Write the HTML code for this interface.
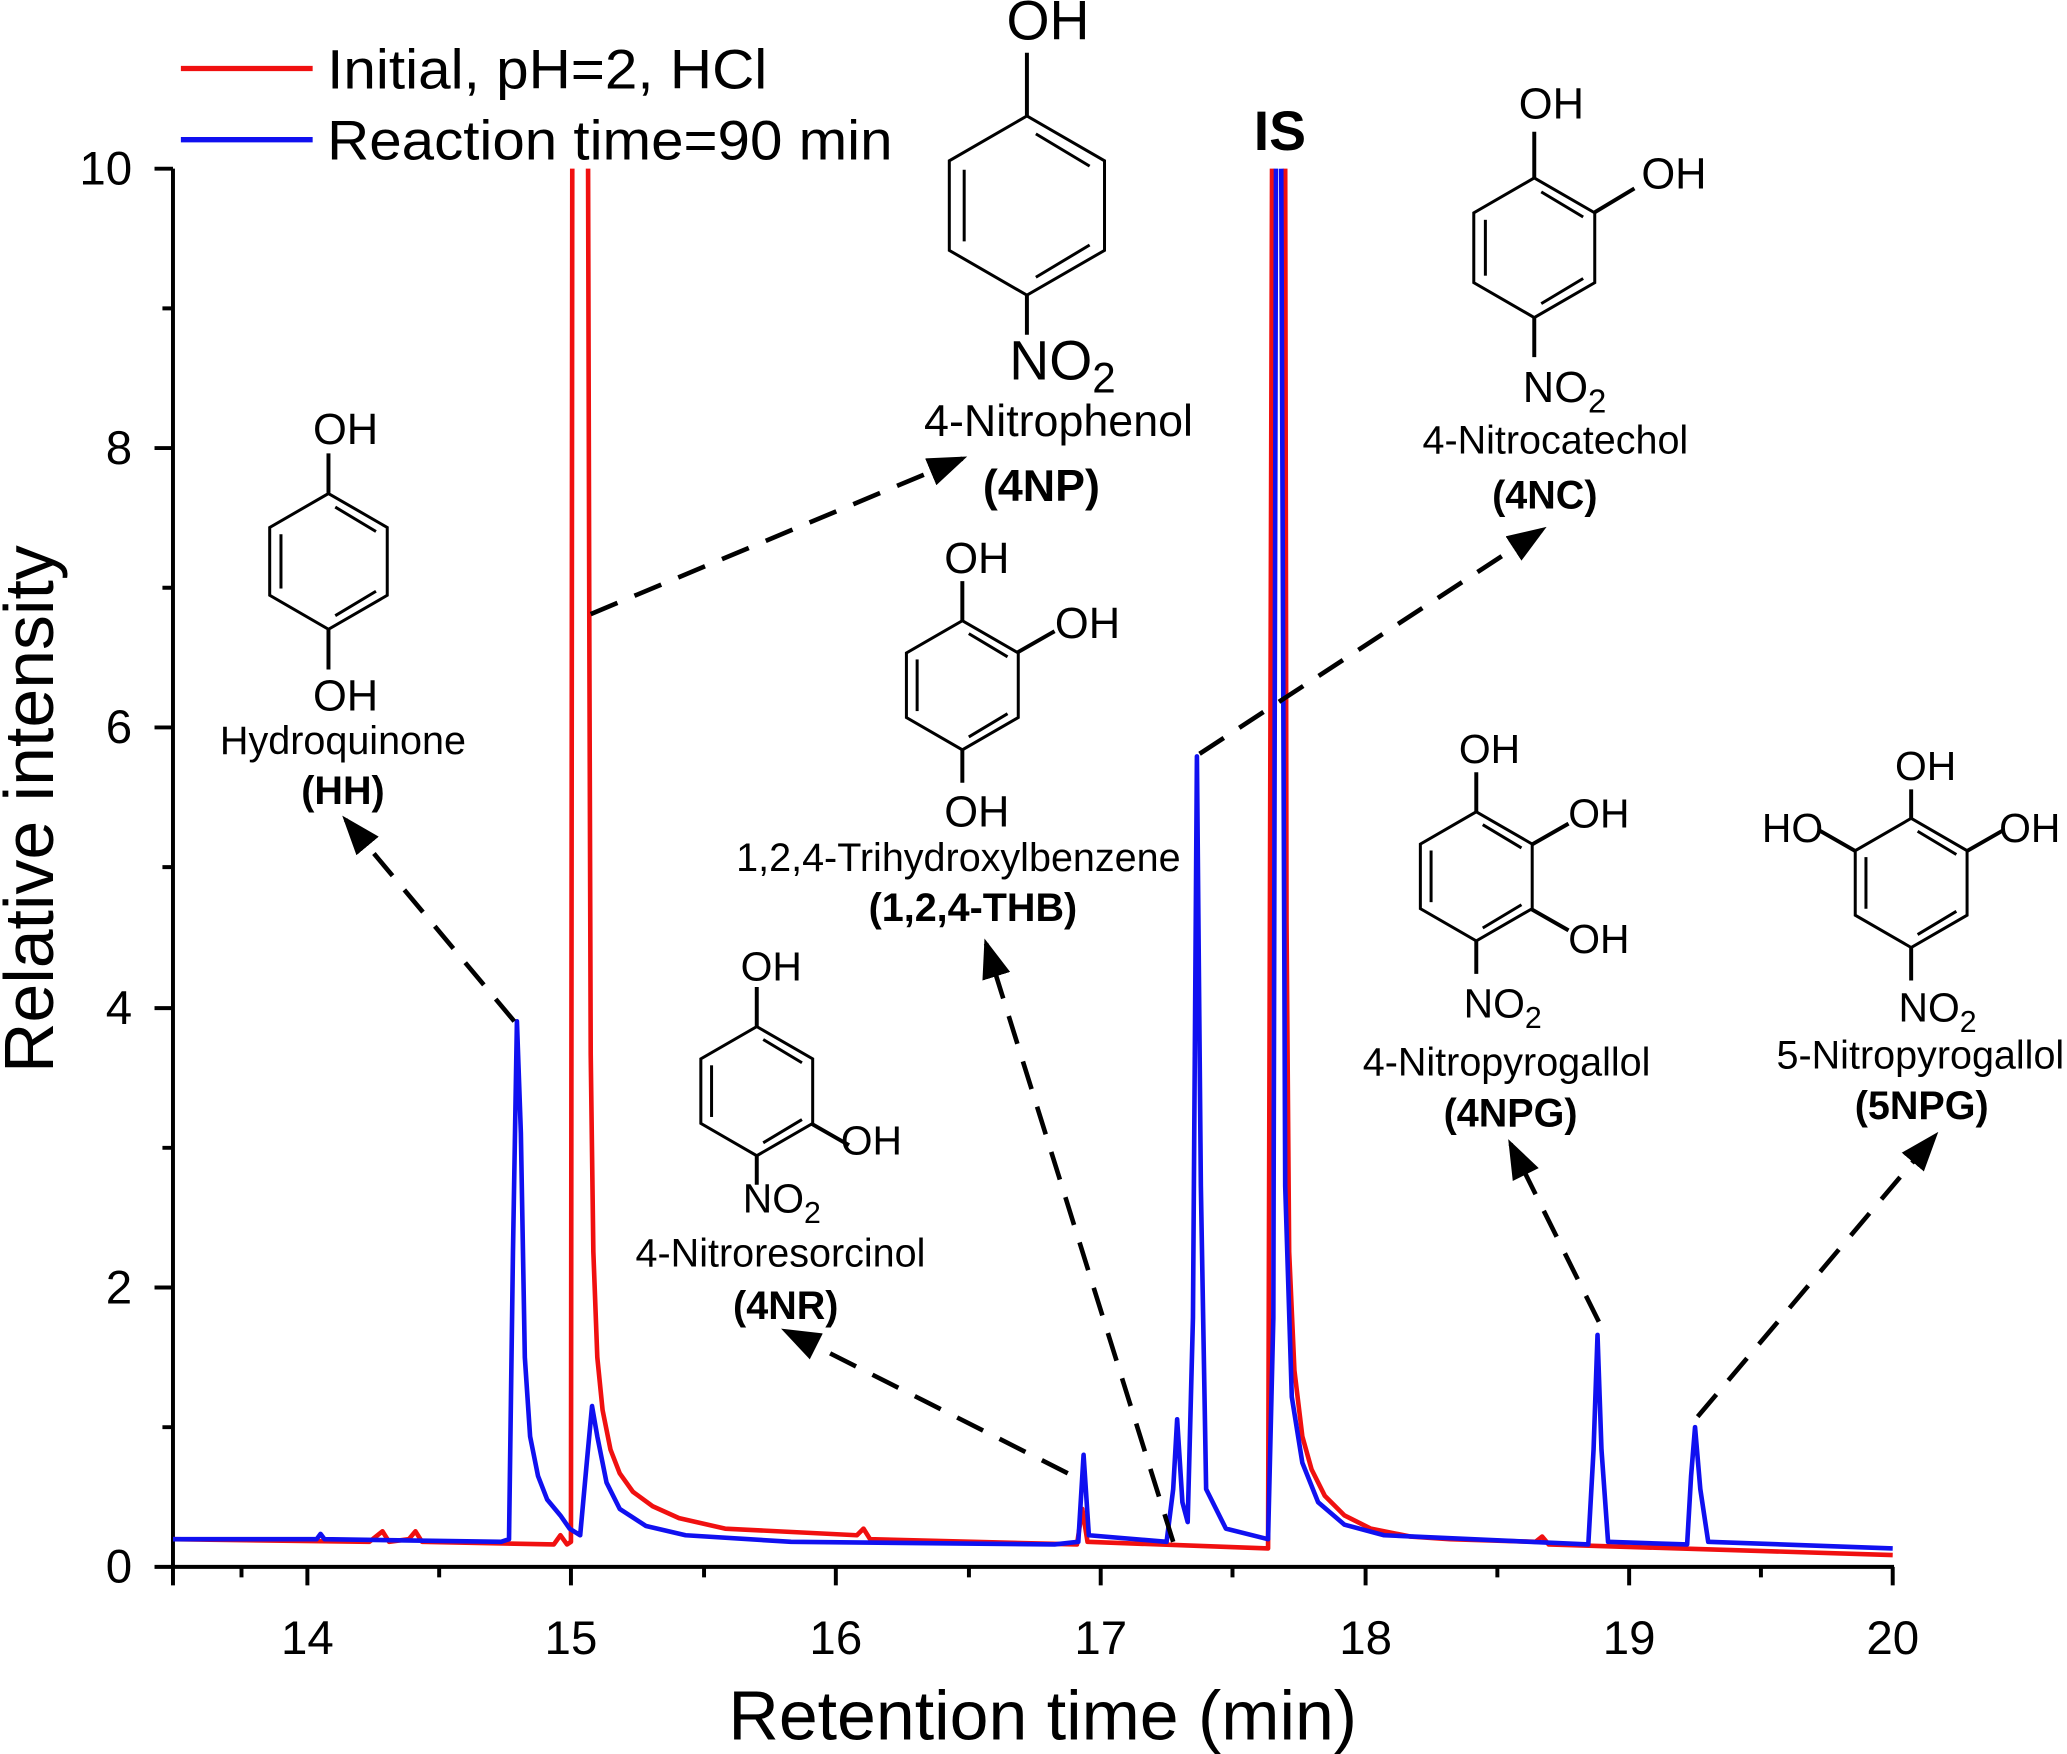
<!DOCTYPE html>
<html><head><meta charset="utf-8"><style>html,body{margin:0;padding:0;background:#fff}svg{display:block}</style></head><body>
<svg width="2067" height="1754" viewBox="0 0 1568 1331" xmlns="http://www.w3.org/2000/svg" font-family="Liberation Sans, Arial, sans-serif">
<defs>
<g id="hex" fill="none" stroke="#000" stroke-width="3">
<polygon vector-effect="non-scaling-stroke" points="0,-50 43.3,-25 43.3,25 0,50 -43.3,25 -43.3,-25"/>
<line vector-effect="non-scaling-stroke" x1="-35" y1="-20" x2="-35" y2="20"/>
<line vector-effect="non-scaling-stroke" x1="5" y1="-40" x2="35" y2="-22"/>
<line vector-effect="non-scaling-stroke" x1="35" y1="22" x2="5" y2="40"/>
</g>
<marker id="ah" markerWidth="30" markerHeight="22" refX="26" refY="11" orient="auto" markerUnits="userSpaceOnUse" viewBox="0 0 30 22"><path d="M0,0 L30,11 L0,22 Z" fill="#000"/></marker>
</defs>
<rect width="1568" height="1331" fill="#fff"/>
<g stroke="#000" stroke-width="3" fill="none">
<line x1="131" y1="128" x2="131" y2="1190"/>
<line x1="130" y1="1189" x2="1437" y2="1189"/>
<path d="M233,1189v14M433,1189v14M634,1189v14M835,1189v14M1036,1189v14M1236,1189v14M1436,1189v14M131,1189v14"/>
<path d="M183,1189v8M333,1189v8M534,1189v8M735,1189v8M935,1189v8M1136,1189v8M1336,1189v8"/>
<path d="M131,1189h-14M131,977h-14M131,765h-14M131,552h-14M131,340h-14M131,128h-14"/>
<path d="M131,1083h-8M131,871h-8M131,658h-8M131,446h-8M131,234h-8"/>
</g>
<g font-size="36" fill="#000" text-anchor="middle">
<text x="233" y="1255">14</text><text x="433" y="1255">15</text><text x="634" y="1255">16</text><text x="835" y="1255">17</text><text x="1036" y="1255">18</text><text x="1236" y="1255">19</text><text x="1436" y="1255">20</text>
</g>
<g font-size="36" fill="#000" text-anchor="end">
<text x="100" y="1201">0</text><text x="100" y="989">2</text><text x="100" y="777">4</text><text x="100" y="564">6</text><text x="100" y="352">8</text><text x="100" y="140">10</text>
</g>
<text x="791" y="1320" font-size="53" text-anchor="middle">Retention time (min)</text>
<text transform="translate(40,614) rotate(-90)" font-size="53" text-anchor="middle">Relative intensity</text>
<g fill="none" stroke="#f01010" stroke-width="3.5" stroke-linejoin="round">
<polyline points="131,1168 280,1170 290,1162 295,1170 310,1168 315,1162 320,1170 420,1172 425,1165 430,1172 433,1170 434,128"/>
<polyline points="446,128 447,500 448,800 450,950 453,1030 457,1070 463,1100 470,1118 480,1132 495,1143 515,1152 550,1160 650,1165 655,1160 660,1168 817,1172 821,1145 825,1170 962,1175 965,128"/>
<polyline points="975,128 976,700 978,950 982,1040 988,1090 995,1115 1005,1135 1020,1150 1040,1160 1070,1166 1100,1168 1165,1170 1170,1166 1175,1172 1436,1180"/>
</g>
<g fill="none" stroke="#1010f0" stroke-width="3.5" stroke-linejoin="round">
<polyline points="131,1168 240,1168 243,1164 246,1168 380,1170 386,1168 389,950 392,775 395,860 398,1030 402,1090 408,1120 415,1138 425,1150 432,1160 440,1165 445,1110 449,1067 453,1090 460,1125 470,1145 490,1158 520,1165 600,1170 800,1172 818,1170 822,1104 826,1165 885,1170 890,1130 893,1077 897,1140 901,1155 905,1000 908,574 911,900 915,1130 930,1160 962,1168 966,1000 968,128"/>
<polyline points="972,128 975,900 980,1060 988,1110 1000,1140 1020,1157 1050,1165 1205,1172 1209,1100 1212,1013 1215,1100 1220,1170 1280,1172 1283,1120 1286,1083 1290,1130 1296,1170 1436,1175"/>
</g>
<line x1="137" y1="52" x2="237" y2="52" stroke="#f01010" stroke-width="4"/>
<line x1="137" y1="106" x2="237" y2="106" stroke="#1010f0" stroke-width="4"/>
<text x="248" y="67" font-size="42" textLength="334" lengthAdjust="spacingAndGlyphs">Initial, pH=2, HCl</text>
<text x="248" y="121" font-size="42" textLength="429" lengthAdjust="spacingAndGlyphs">Reaction time=90 min</text>
<text x="971" y="114" font-size="42" font-weight="bold" text-anchor="middle">IS</text>
<g stroke="#000" stroke-width="3.5" stroke-dasharray="22,14" fill="none" marker-end="url(#ah)">
<line x1="448" y1="466" x2="730" y2="348"/>
<line x1="910" y1="572" x2="1170" y2="402"/>
<line x1="390" y1="775" x2="262" y2="622"/>
<line x1="890" y1="1170" x2="748" y2="716"/>
<line x1="810" y1="1118" x2="596" y2="1010"/>
<line x1="1213" y1="1003" x2="1146" y2="868"/>
<line x1="1288" y1="1075" x2="1468" y2="862"/>
</g>
<g stroke="#000" stroke-width="3" fill="none">
<use href="#hex" transform="translate(249,426) scale(1.03)"/>
<path d="M249,374v-30M249,478v30"/>
<use href="#hex" transform="translate(779,156) scale(1.36)"/>
<path d="M779,88v-48M779,224v30"/>
<use href="#hex" transform="translate(1164,188) scale(1.06)"/>
<path d="M1164,135v-35M1210,161l30,-18M1164,241v30"/>
<use href="#hex" transform="translate(730,520) scale(0.98)"/>
<path d="M730,471v-30M772,495l28,-16M730,569v25"/>
<use href="#hex" transform="translate(574,828) scale(0.98)"/>
<path d="M574,779v-30M616,853l28,16M574,877v22"/>
<use href="#hex" transform="translate(1120,665) scale(0.98)"/>
<path d="M1120,616v-30M1162,641l28,-16M1162,690l28,16M1120,714v25"/>
<use href="#hex" transform="translate(1450,670) scale(0.98)"/>
<path d="M1450,621v-22M1408,646l-28,-16M1492,646l28,-16M1450,719v25"/>
</g>
<g font-size="33" fill="#000" text-anchor="middle">
<text x="262" y="337">OH</text><text x="262" y="539">OH</text>
<text x="260" y="572" font-size="30">Hydroquinone</text>
<text x="260" y="610" font-size="30" font-weight="bold">(HH)</text>
<text x="795" y="30" font-size="42">OH</text>
<text x="806" y="288" font-size="42">NO<tspan font-size="32" dy="10">2</tspan></text>
<text x="803" y="331" font-size="34">4-Nitrophenol</text>
<text x="790" y="380" font-size="34" font-weight="bold">(4NP)</text>
<text x="1177" y="90">OH</text><text x="1270" y="143">OH</text>
<text x="1187" y="305">NO<tspan font-size="25" dy="8">2</tspan></text>
<text x="1180" y="344" font-size="30">4-Nitrocatechol</text>
<text x="1172" y="386" font-size="30" font-weight="bold">(4NC)</text>
<text x="741" y="435">OH</text><text x="825" y="484">OH</text><text x="741" y="627">OH</text>
<text x="727" y="661" font-size="30">1,2,4-Trihydroxylbenzene</text>
<text x="738" y="699" font-size="30" font-weight="bold">(1,2,4-THB)</text>
<text x="585" y="744" font-size="31">OH</text><text x="661" y="876" font-size="31">OH</text>
<text x="593" y="920" font-size="31">NO<tspan font-size="23" dy="8">2</tspan></text>
<text x="592" y="961" font-size="30">4-Nitroresorcinol</text>
<text x="596" y="1001" font-size="30" font-weight="bold">(4NR)</text>
<text x="1130" y="579" font-size="31">OH</text><text x="1213" y="628" font-size="31">OH</text><text x="1213" y="723" font-size="31">OH</text>
<text x="1140" y="772" font-size="31">NO<tspan font-size="23" dy="8">2</tspan></text>
<text x="1143" y="816" font-size="30">4-Nitropyrogallol</text>
<text x="1146" y="855" font-size="30" font-weight="bold">(4NPG)</text>
<text x="1461" y="592" font-size="31">OH</text><text x="1360" y="639" font-size="31">HO</text><text x="1540" y="639" font-size="31">OH</text>
<text x="1470" y="775" font-size="31">NO<tspan font-size="23" dy="8">2</tspan></text>
<text x="1457" y="811" font-size="30">5-Nitropyrogallol</text>
<text x="1458" y="849" font-size="30" font-weight="bold">(5NPG)</text>
</g>
</svg>
</body></html>
